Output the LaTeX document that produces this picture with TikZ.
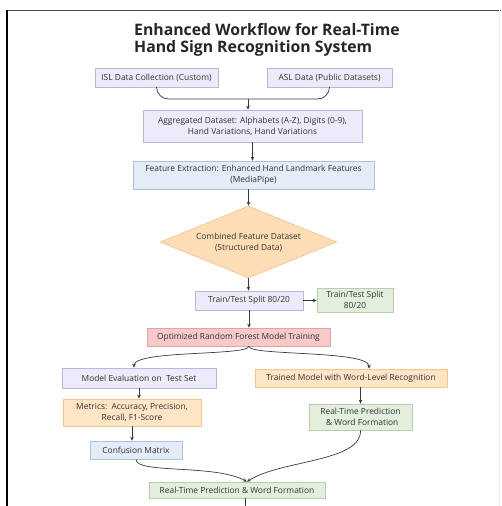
\documentclass[tikz,border=0pt]{standalone}
\usepackage{fontspec}
\setmainfont{Open Sans}
\usetikzlibrary{shapes.geometric,arrows.meta}

\definecolor{lavfill}{HTML}{ECEBFA}
\definecolor{lavline}{HTML}{B9B7DC}
\definecolor{bluefill}{HTML}{E4ECF8}
\definecolor{blueline}{HTML}{AFC1DF}
\definecolor{peachfill}{HTML}{FDDDB5}
\definecolor{peachline}{HTML}{F2C48E}
\definecolor{greenfill}{HTML}{E3EEDD}
\definecolor{greenline}{HTML}{B8CFAE}
\definecolor{redfill}{HTML}{F7CACA}
\definecolor{redline}{HTML}{E2A3A3}
\definecolor{orfill}{HTML}{FDE5C6}
\definecolor{orline}{HTML}{F3C690}
\definecolor{arrgray}{HTML}{3A3A3A}

\begin{document}
\begin{tikzpicture}[
    x=1pt, y=-1pt,
    font=\fontsize{8.4}{11}\selectfont,
    box/.style={draw, line width=0.6pt, inner sep=0pt, align=center, text=black!80},
    lav/.style={box, fill=lavfill, draw=lavline},
    blu/.style={box, fill=bluefill, draw=blueline},
    grn/.style={box, fill=greenfill, draw=greenline},
    red/.style={box, fill=redfill, draw=redline},
    orn/.style={box, fill=orfill, draw=orline},
    dia/.style={diamond, aspect=2.4, inner sep=0pt, align=center, text=black!80,
        fill=peachfill, draw=peachline, line width=0.6pt},
    arr/.style={-{Stealth[length=4pt,width=3.5pt]}, arrgray, line width=0.7pt},
    link/.style={arrgray, line width=0.7pt}
]

    % Fix the page size
    \useasboundingbox (0,0) rectangle (501,506);

    % Draw the frame
    \draw[black!70, line width=1pt] (7,10) -- (501,10);
    \draw[black, line width=1.6pt] (7,10) -- (7,506);
    \draw[black!8, line width=0.8pt] (499.5,10) -- (499.5,506);

    % Title
    \node[anchor=north west, inner sep=0pt, align=left, text=black!85,
        font=\bfseries\fontsize{15.8}{17}\selectfont] (title) at (134,23)
        {Enhanced Workflow for Real-Time\\Hand Sign Recognition System};

    % Data sources
    \node[lav, minimum width=123, minimum height=19] (isl) at (156.5,77.5) {ISL Data Collection (Custom)};
    \node[lav, minimum width=125, minimum height=19] (asl) at (329.5,77.5) {ASL Data (Public Datasets)};
    \coordinate (merge) at (248,99);

    % Main column
    \node[lav, minimum width=219, minimum height=32] (agg) at (252.5,126)
        {Aggregated Dataset: Alphabets (A-Z), Digits (0-9),\\Hand Variations, Hand Variations};
    \node[blu, minimum width=241, minimum height=28] (feat) at (253.5,175)
        {Feature Extraction: Enhanced Hand Landmark Features\\(MediaPipe)};
    \node[dia, minimum width=177, minimum height=72] (comb) at (248.5,242)
        {Combined Feature Dataset\\(Structured Data)};
    \node[lav, minimum width=108, minimum height=19] (split) at (249,300.5) {Train/Test Split 80/20};
    \node[grn, minimum width=76, minimum height=24] (split2) at (355,300)
        {Train/Test Split\\80/20};
    \node[red, minimum width=183, minimum height=18] (rf) at (238.5,337) {Optimized Random Forest Model Training};

    % Left branch
    \node[lav, minimum width=154, minimum height=20] (eval) at (139,378) {Model Evaluation on\ \ Test Set};
    \node[orn, minimum width=138, minimum height=27] (metr) at (132,412.5)
        {Metrics:\ \ Accuracy, Precision,\\Recall, F1-Score};
    \node[blu, minimum width=92, minimum height=18] (conf) at (136,450) {Confusion Matrix};

    % Right branch
    \node[orn, minimum width=192, minimum height=18] (trained) at (351,378) {Trained Model with Word-Level Recognition};
    \node[grn, minimum width=103, minimum height=26] (rtp) at (360.5,417)
        {Real-Time Prediction\\\ \,\& Word Formation};

    % Output
    \node[grn, minimum width=176, minimum height=16] (final) at (237,490) {Real-Time Prediction \& Word Formation};
    \coordinate (bottom) at (245,506);

    % Connectors
    \draw[link, rounded corners=12pt] (isl.south) |- (merge) -| (asl.south);
    \draw[arr] (merge) -- (merge |- agg.north);
    \draw[arr] (agg.south) -- (agg.south |- feat.north);
    \draw[arr] (feat.south -| comb.north) -- (comb.north);
    \draw[arr] (comb.south) -- (comb.south |- split.north);
    \draw[arr] (split.east) -- (split2.west |- split.east);
    \draw[arr] (split.south) -- (split.south |- rf.north);
    \draw[arr] (split.south |- rf.south) .. controls (248,356) and (134,350) .. ([xshift=-5]eval.north);
    \draw[arr] (split.south |- rf.south) .. controls (248,356) and (369,350) .. ([xshift=18]trained.north);
    \draw[arr] (eval.south) -- (eval.south |- metr.north);
    \draw[arr] (metr.south) -- (metr.south |- conf.north);
    \draw[arr] (rtp.north |- trained.south) -- (rtp.north);
    \draw[arr] (conf.south) .. controls (135,474) and (215,464) .. ([xshift=10]final.north);
    \draw[arr] (rtp.south) .. controls (362,462) and (280,460) .. ([xshift=10]final.north);
    \draw[link] ([xshift=8]final.south) -- (bottom);

\end{tikzpicture}
\end{document}
